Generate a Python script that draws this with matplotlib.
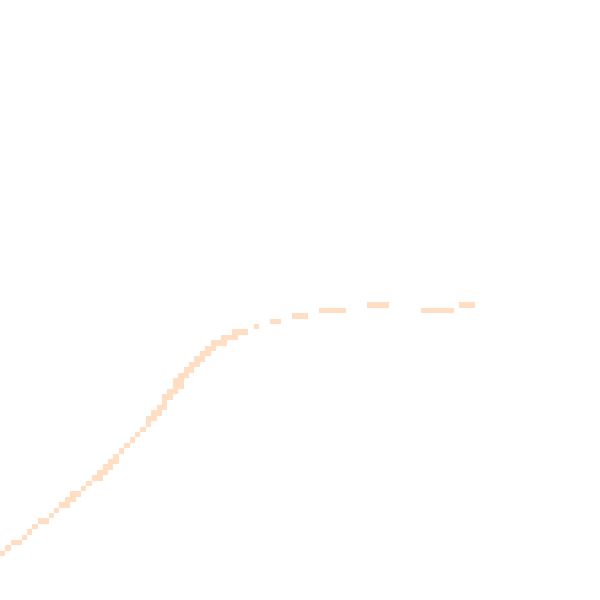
"""Curva escalonada en celdas color melocotón"""

import matplotlib
matplotlib.use("Agg")
import matplotlib.pyplot as plt

# Cada tramo: fila (desde arriba), columna inicial y número de celdas
run_row = [102, 101, 100, 99, 98, 97, 96, 95, 94, 93, 92, 91, 90, 89, 88, 87,
           86, 85, 84, 83, 82, 81, 80, 79, 78, 77, 76, 75, 74, 73, 72, 71,
           70, 69, 68, 67, 66, 65, 64, 63, 62, 61, 60, 59, 58, 57, 56, 57, 56]
run_start = [0, 1, 2, 4, 5, 6, 7, 9, 10, 11, 12, 13, 15, 16, 17, 18,
             19, 20, 21, 22, 23, 24, 25, 26, 27, 27, 28, 29, 30, 30, 31, 32,
             32, 33, 34, 35, 36, 37, 38, 39, 41, 43, 47, 50, 54, 59, 68, 78, 85]
run_len = [1, 1, 2, 1, 1, 1, 2, 1, 1, 2, 2, 2, 1, 1, 2, 2,
           2, 2, 1, 1, 1, 1, 1, 1, 1, 2, 2, 2, 1, 2, 2, 2,
           2, 2, 2, 2, 2, 2, 2, 3, 3, 3, 1, 2, 3, 5, 4, 6, 3]

GRID = 600 / 5.4  # celdas que caben en el lienzo
PEACH = "#FFDEC4"

fig = plt.figure(figsize=(6, 6), dpi=100)
ax = fig.add_axes([0, 0, 1, 1])

ax.barh(run_row, run_len, left=run_start, height=1, align="edge",
        color=PEACH, linewidth=0)

ax.set_xlim(0, GRID)
ax.set_ylim(GRID, 0)
ax.axis("off")

fig.savefig("out.png", dpi=100, facecolor="white")
plt.close(fig)
